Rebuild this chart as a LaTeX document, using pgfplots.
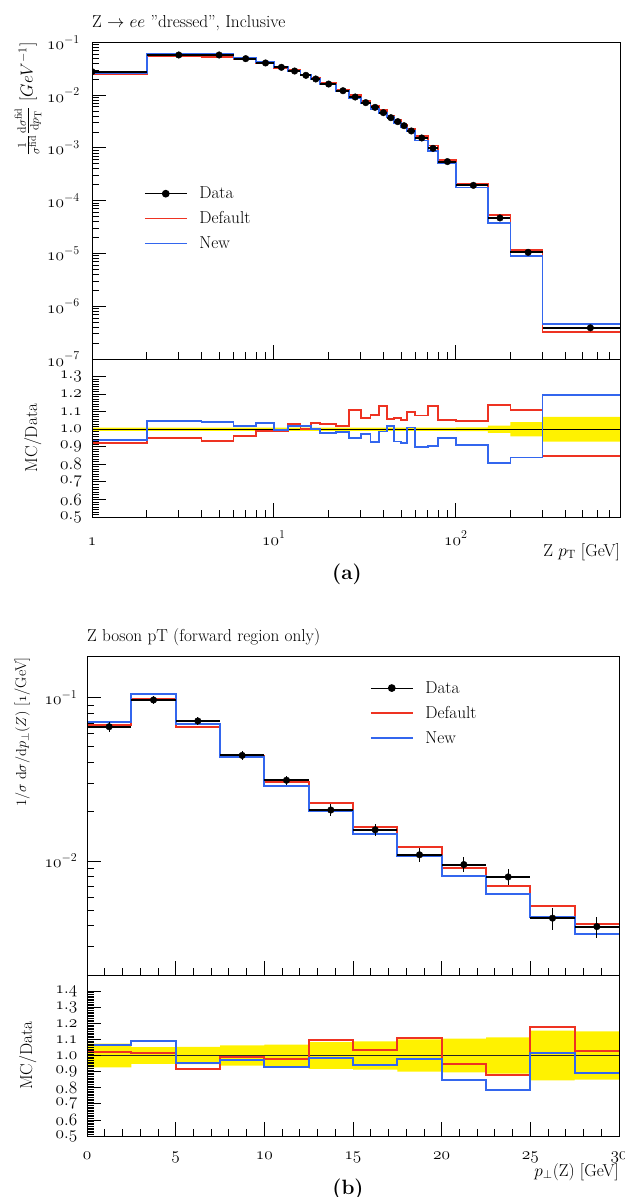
\documentclass[border=0pt]{standalone}
\usepackage{pgfplots}
\pgfplotsset{compat=1.18}
\definecolor{rvred}{RGB}{238,51,34}
\definecolor{rvblue}{RGB}{51,102,238}
\pgfplotsset{
  rv/.style={scale only axis, axis on top, axis line style={line width=0.9pt},
    tick style={black, line width=0.8pt}, major tick length=14pt, minor tick length=7pt,
    tick align=inside, tick pos=left, clip marker paths=true,
    yticklabel style={inner sep=1pt}},
  rvleg/.style={legend cell align=left,
    legend style={draw=none, fill=none, inner sep=0pt, row sep=11.5pt,
      nodes={inner sep=0pt}, /tikz/every odd column/.append style={column sep=12pt}},
    legend image code/.code={\draw[mark repeat=2,mark phase=2,##1] plot coordinates {(0pt,0pt) (21pt,0pt) (42pt,0pt)};}},
  mcline/.style={const plot, line width=1.9pt},
}
\begin{document}
\begin{tikzpicture}[font=\fontsize{17.28}{20.74}\selectfont]
\path[use as bounding box] (0pt,0pt) rectangle (624pt,-1197pt);

% ---------------- panel (a) main ----------------
\begin{axis}[rv, rvleg, at={(92pt,-42.3pt)}, anchor=north west, width=528pt, height=316.7pt,
  xmode=log, ymode=log, xmin=1, xmax=800, ymin=1e-7, ymax=1e-1,
  xtick={1,10,100}, xticklabels={},
  minor xtick={2,3,4,5,6,7,8,9,20,30,40,50,60,70,80,90,200,300,400,500,600,700,800},
  ytick={1e-7,1e-6,1e-5,1e-4,1e-3,1e-2,1e-1},
  yticklabels={$\mathnormal{10}^{-7}$,$\mathnormal{10}^{-6}$,$\mathnormal{10}^{-5}$,$\mathnormal{10}^{-4}$,$\mathnormal{10}^{-3}$,$\mathnormal{10}^{-2}$,$\mathnormal{10}^{-1}$},
  minor ytick={2e-7,3e-7,4e-7,5e-7,6e-7,7e-7,8e-7,9e-7,
    2e-6,3e-6,4e-6,5e-6,6e-6,7e-6,8e-6,9e-6,
    2e-5,3e-5,4e-5,5e-5,6e-5,7e-5,8e-5,9e-5,
    2e-4,3e-4,4e-4,5e-4,6e-4,7e-4,8e-4,9e-4,
    2e-3,3e-3,4e-3,5e-3,6e-3,7e-3,8e-3,9e-3,
    2e-2,3e-2,4e-2,5e-2,6e-2,7e-2,8e-2,9e-2},
  yticklabel style={xshift=-11pt},
  legend style={at={(0.0985,0.4432)}, anchor=west}]
\addlegendimage{black, line width=1.1pt, mark=*, mark size=3.3pt}
\addlegendentry{Data}
\addlegendimage{rvred, line width=1.1pt}
\addlegendentry{Default}
\addlegendimage{rvblue, line width=1.1pt}
\addlegendentry{New}
% Default
\addplot[mcline, rvred, forget plot] coordinates {
 (1,0.02558) (2,0.05463) (4,0.05365) (6,0.04714) (8,0.04028) (10,0.03316) (12,0.02940)
 (14,0.0237) (16,0.02087) (18,0.01665) (22,0.01233) (26,0.01021) (30,0.007654)
 (34,0.006341) (38,0.005268) (42,0.003954) (46,0.003338) (50,0.002769) (54,0.002293)
 (60,0.00166) (70,0.001107) (80,0.000579) (100,0.0002038) (150,5.358e-5)
 (200,1.1655e-5) (300,3.296e-7) (800,3.296e-7)};
% New
\addplot[mcline, rvblue, forget plot] coordinates {
 (1,0.02613) (2,0.06009) (4,0.05997) (6,0.04993) (8,0.04198) (10,0.03347) (12,0.02914)
 (14,0.02415) (16,0.0202) (18,0.01586) (22,0.01193) (26,0.00873) (30,0.00702)
 (34,0.005426) (38,0.00459) (42,0.003793) (46,0.00292) (50,0.00243) (54,0.002111)
 (60,0.001381) (70,0.000885) (80,0.000522) (100,0.0001776) (150,3.788e-5)
 (200,8.81e-6) (300,4.66e-7) (800,4.66e-7)};
% Data: bin widths
\addplot[black, only marks, mark=none, forget plot,
  error bars/.cd, x dir=both, x explicit, error mark=none,
  error bar style={black, line width=1.9pt}] coordinates {
 (1,0.0278) += (1,0) -= (0.9,0)
 (3,0.0575) += (1,0) -= (1,0)
 (5,0.0575) += (1,0) -= (1,0)
 (7,0.049) += (1,0) -= (1,0)
 (9,0.0406) += (1,0) -= (1,0)
 (11,0.0336) += (1,0) -= (1,0)
 (13,0.0286) += (1,0) -= (1,0)
 (15,0.0237) += (1,0) -= (1,0)
 (17,0.0202) += (1,0) -= (1,0)
 (20,0.0162) += (2,0) -= (2,0)
 (24,0.0121) += (2,0) -= (2,0)
 (28,0.0092) += (2,0) -= (2,0)
 (32,0.0072) += (2,0) -= (2,0)
 (36,0.00586) += (2,0) -= (2,0)
 (40,0.00465) += (2,0) -= (2,0)
 (44,0.00373) += (2,0) -= (2,0)
 (48,0.00314) += (2,0) -= (2,0)
 (52,0.00263) += (2,0) -= (2,0)
 (57,0.00209) += (3,0) -= (3,0)
 (65,0.00154) += (5,0) -= (5,0)
 (75,0.00098) += (5,0) -= (5,0)
 (90,0.00055) += (10,0) -= (10,0)
 (125,0.000195) += (25,0) -= (25,0)
 (175,4.7e-5) += (25,0) -= (25,0)
 (250,1.05e-5) += (50,0) -= (50,0)
 (550,3.9e-7) += (250,0) -= (250,0)};
% Data: points and uncertainties
\addplot[black, only marks, mark=*, mark size=3.3pt, forget plot,
  error bars/.cd, y dir=both, y explicit, error mark=none,
  error bar style={black, line width=1.1pt}] coordinates {
 (1,0.0278) +- (0,0.00022) (3,0.0575) +- (0,0.00046) (5,0.0575) +- (0,0.00046)
 (7,0.049) +- (0,0.00039) (9,0.0406) +- (0,0.00032) (11,0.0336) +- (0,0.00027)
 (13,0.0286) +- (0,0.00023) (15,0.0237) +- (0,0.00019) (17,0.0202) +- (0,0.00016)
 (20,0.0162) +- (0,0.00013) (24,0.0121) +- (0,0.0001) (28,0.0092) +- (0,0.000074)
 (32,0.0072) +- (0,0.000058) (36,0.00586) +- (0,0.000047) (40,0.00465) +- (0,0.000037)
 (44,0.00373) +- (0,0.00003) (48,0.00314) +- (0,0.000025) (52,0.00263) +- (0,0.000021)
 (57,0.00209) +- (0,0.000017) (65,0.00154) +- (0,0.000012) (75,0.00098) +- (0,0.0000078)
 (90,0.00055) +- (0,0.0000044) (125,0.000195) +- (0,0.0000021) (175,4.7e-5) +- (0,1e-6)
 (250,1.05e-5) +- (0,4.2e-7) (550,3.9e-7) +- (0,2.7e-8)};
\end{axis}

% ---------------- panel (a) ratio ----------------
\begin{axis}[rv, at={(92pt,-359pt)}, anchor=north west, width=528pt, height=158pt,
  xmode=log, xmin=1, xmax=800, ymin=0.5, ymax=1.4,
  xtick={1,10,100}, xticklabels={$\mathnormal{1}$,$\mathnormal{10}^{1}$,$\mathnormal{10}^{2}$},
  minor xtick={2,3,4,5,6,7,8,9,20,30,40,50,60,70,80,90,200,300,400,500,600,700,800},
  xticklabel style={anchor=base, yshift=-28pt},
  ytick={0.5,0.6,0.7,0.8,0.9,1.0,1.1,1.2,1.3}, minor y tick num=6,
  yticklabels={$\mathnormal{0.5}$,$\mathnormal{0.6}$,$\mathnormal{0.7}$,$\mathnormal{0.8}$,$\mathnormal{0.9}$,$\mathnormal{1.0}$,$\mathnormal{1.1}$,$\mathnormal{1.2}$,$\mathnormal{1.3}$},
  yticklabel style={xshift=-9pt}]
\addplot[fill=yellow, draw=none] coordinates {
 (1,1.009) (100,1.009) (100,1.011) (150,1.011) (150,1.021) (200,1.021) (200,1.04)
 (300,1.04) (300,1.07) (800,1.07) (800,0.93) (300,0.93) (300,0.96) (200,0.96)
 (200,0.979) (150,0.979) (150,0.989) (100,0.989) (100,0.991) (1,0.991)} -- cycle;
\addplot[black, line width=1pt] coordinates {(1,1) (800,1)};
\addplot[mcline, rvred] coordinates {
 (1,0.92) (2,0.95) (4,0.933) (6,0.962) (8,0.992) (10,0.987) (12,1.028) (14,1.0)
 (16,1.033) (18,1.028) (22,1.019) (26,1.11) (30,1.063) (34,1.082) (38,1.133)
 (42,1.06) (46,1.063) (50,1.053) (54,1.097) (60,1.078) (70,1.13) (80,1.053)
 (100,1.045) (150,1.14) (200,1.11) (300,0.845) (800,0.845)};
\addplot[mcline, rvblue] coordinates {
 (1,0.94) (2,1.045) (4,1.043) (6,1.019) (8,1.034) (10,0.996) (12,1.019) (14,1.019)
 (16,1.0) (18,0.979) (22,0.986) (26,0.949) (30,0.975) (34,0.926) (38,0.987)
 (42,1.017) (46,0.93) (50,0.924) (54,1.01) (60,0.897) (70,0.903) (80,0.949)
 (100,0.911) (150,0.806) (200,0.839) (300,1.195) (800,1.195)};
\end{axis}

% ---------------- panel (b) main ----------------
\begin{axis}[rv, rvleg, at={(87pt,-656pt)}, anchor=north west, width=532pt, height=319pt,
  xmin=0, xmax=30, ymode=log, ymin=0.002, ymax=0.18,
  xtick={0,5,10,15,20,25,30}, xticklabels={}, minor x tick num=4,
  ytick={0.01,0.1}, yticklabels={$\mathnormal{10}^{-2}$,$\mathnormal{10}^{-1}$},
  minor ytick={0.002,0.003,0.004,0.005,0.006,0.007,0.008,0.009,0.02,0.03,0.04,0.05,0.06,0.07,0.08,0.09},
  yticklabel style={xshift=-8.5pt},
  legend style={at={(0.532,0.8213)}, anchor=west}]
\addlegendimage{black, line width=1.1pt, mark=*, mark size=3.3pt}
\addlegendentry{Data}
\addlegendimage{rvred, line width=1.1pt}
\addlegendentry{Default}
\addlegendimage{rvblue, line width=1.1pt}
\addlegendentry{New}
\addplot[mcline, rvred, forget plot] coordinates {
 (0,0.0684) (2.5,0.098) (5,0.0664) (7.5,0.0442) (10,0.0303) (12.5,0.0227) (15,0.0162)
 (17.5,0.0121) (20,0.0091) (22.5,0.00703) (25,0.0053) (27.5,0.00409) (30,0.00409)};
\addplot[mcline, rvblue, forget plot] coordinates {
 (0,0.071) (2.5,0.105) (5,0.069) (7.5,0.0431) (10,0.0289) (12.5,0.0203) (15,0.01455)
 (17.5,0.01074) (20,0.0081) (22.5,0.00628) (25,0.00456) (27.5,0.00356) (30,0.00356)};
\addplot[black, only marks, mark=none, forget plot,
  error bars/.cd, x dir=both, x explicit, error mark=none,
  error bar style={black, line width=1.9pt}] coordinates {
 (1.25,0.0664) +- (1.25,0) (3.75,0.0968) +- (1.25,0) (6.25,0.072) +- (1.25,0)
 (8.75,0.0443) +- (1.25,0) (11.25,0.0312) +- (1.25,0) (13.75,0.0205) +- (1.25,0)
 (16.25,0.0155) +- (1.25,0) (18.75,0.0109) +- (1.25,0) (21.25,0.0095) +- (1.25,0)
 (23.75,0.00798) +- (1.25,0) (26.25,0.00446) +- (1.25,0) (28.75,0.00396) +- (1.25,0)};
\addplot[black, only marks, mark=*, mark size=3.3pt, forget plot,
  error bars/.cd, y dir=both, y explicit, error mark=none,
  error bar style={black, line width=1.1pt}] coordinates {
 (1.25,0.0664) +- (0,0.0049) (3.75,0.0968) +- (0,0.005) (6.25,0.072) +- (0,0.0038)
 (8.75,0.0443) +- (0,0.0028) (11.25,0.0312) +- (0,0.0021) (13.75,0.0205) +- (0,0.0017)
 (16.25,0.0155) +- (0,0.00136) (18.75,0.0109) +- (0,0.00109) (21.25,0.0095) +- (0,0.001)
 (23.75,0.00798) +- (0,0.0009) (26.25,0.00446) +- (0,0.00069) (28.75,0.00396) +- (0,0.00059)};
\end{axis}

% ---------------- panel (b) ratio ----------------
\begin{axis}[rv, at={(87pt,-975pt)}, anchor=north west, width=532pt, height=161pt,
  xmin=0, xmax=30, ymin=0.5, ymax=1.5,
  xtick={0,5,10,15,20,25,30},
  xticklabels={$\mathnormal{0}$,$\mathnormal{5}$,$\mathnormal{10}$,$\mathnormal{15}$,$\mathnormal{20}$,$\mathnormal{25}$,$\mathnormal{30}$},
  minor x tick num=4, xticklabel style={anchor=base, yshift=-23pt},
  ytick={0.5,0.6,0.7,0.8,0.9,1.0,1.1,1.2,1.3,1.4}, minor y tick num=9,
  yticklabels={$\mathnormal{0.5}$,$\mathnormal{0.6}$,$\mathnormal{0.7}$,$\mathnormal{0.8}$,$\mathnormal{0.9}$,$\mathnormal{1.0}$,$\mathnormal{1.1}$,$\mathnormal{1.2}$,$\mathnormal{1.3}$,$\mathnormal{1.4}$},
  yticklabel style={xshift=-8.5pt}]
\addplot[fill=yellow, draw=none] coordinates {
 (0,1.074) (2.5,1.074) (2.5,1.052) (5,1.052) (5,1.053) (7.5,1.053) (7.5,1.063)
 (10,1.063) (10,1.068) (12.5,1.068) (12.5,1.083) (15,1.083) (15,1.088) (17.5,1.088)
 (17.5,1.1) (20,1.1) (20,1.105) (22.5,1.105) (22.5,1.113) (25,1.113) (25,1.155)
 (27.5,1.155) (27.5,1.15) (30,1.15)
 (30,0.85) (27.5,0.85) (27.5,0.845) (25,0.845) (25,0.887) (22.5,0.887) (22.5,0.895)
 (20,0.895) (20,0.9) (17.5,0.9) (17.5,0.912) (15,0.912) (15,0.917) (12.5,0.917)
 (12.5,0.932) (10,0.932) (10,0.937) (7.5,0.937) (7.5,0.947) (5,0.947) (5,0.948)
 (2.5,0.948) (2.5,0.926) (0,0.926)} -- cycle;
\addplot[black!85, line width=1.3pt] coordinates {(0,1) (30,1)};
\addplot[mcline, rvred] coordinates {
 (0,1.023) (2.5,1.017) (5,0.917) (7.5,0.988) (10,0.977) (12.5,1.098) (15,1.035)
 (17.5,1.11) (20,0.948) (22.5,0.879) (25,1.175) (27.5,1.027) (30,1.027)};
\addplot[mcline, rvblue] coordinates {
 (0,1.067) (2.5,1.092) (5,0.956) (7.5,0.973) (10,0.927) (12.5,0.985) (15,0.94)
 (17.5,0.981) (20,0.848) (22.5,0.788) (25,1.013) (27.5,0.894) (30,0.894)};
\end{axis}

% ---------------- texts ----------------
\node[anchor=base west, inner sep=0pt] at (92pt,-27pt) {Z $\rightarrow$ $ee$ "dressed", Inclusive};
\node[anchor=base west, inner sep=0pt] at (87pt,-641pt) {Z boson pT (forward region only)};
\node[rotate=90, anchor=east, inner sep=0pt] at (28pt,-42.3pt)
  {$\frac{1}{\sigma^{\mathrm{fid}}}\frac{\mathrm{d}\sigma^{\mathrm{fid}}}{\mathrm{d}p_{\mathrm{T}}}$ $[GeV^{-1}]$};
\node[rotate=90, anchor=base, inner sep=0pt] at (37pt,-438pt) {MC/Data};
\node[rotate=90, anchor=base east, inner sep=0pt, font=\fontsize{15.5}{18}\selectfont] at (26pt,-657pt)
  {$1/\sigma\;\mathrm{d}\sigma/\mathrm{d}p_{\perp}(Z)$ [$\mathnormal{1}$/GeV]};
\node[rotate=90, anchor=base, inner sep=0pt] at (32pt,-1055.5pt) {MC/Data};
\node[anchor=base east, inner sep=0pt] at (620pt,-556pt) {Z $p_{\mathrm{T}}$ [GeV]};
\node[anchor=base east, inner sep=0pt] at (619pt,-1176pt) {$p_{\perp}$(Z) [GeV]};
\node[font=\fontsize{20.74}{24}\selectfont\bfseries] at (347pt,-574pt) {(a)};
\node[font=\fontsize{20.74}{24}\selectfont\bfseries] at (348pt,-1189pt) {(b)};
\end{tikzpicture}
\end{document}
